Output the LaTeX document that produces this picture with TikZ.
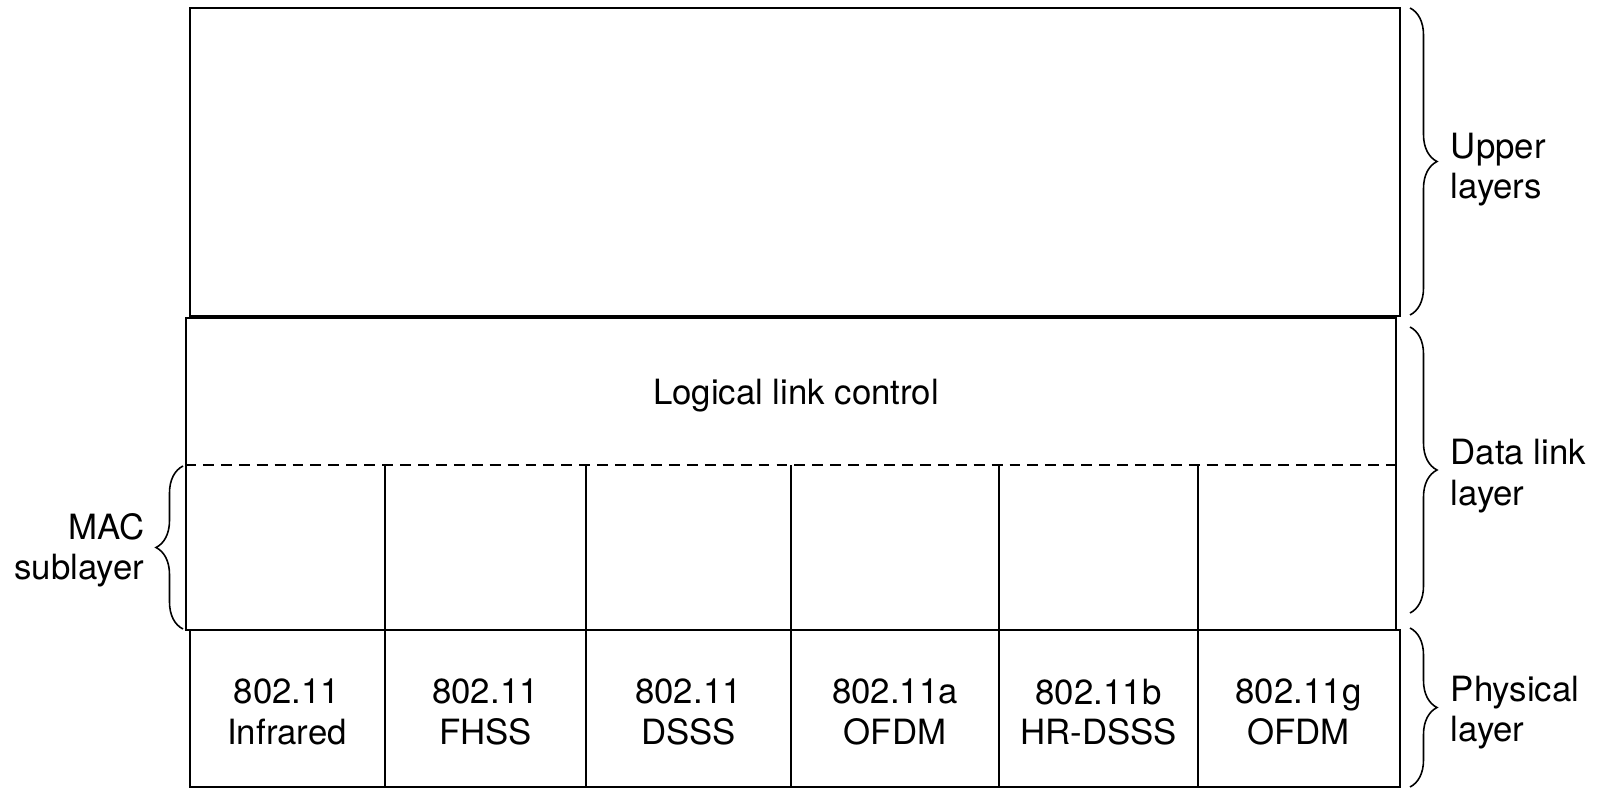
\documentclass[tikz,border=0pt]{standalone}
\usepackage{fontspec}
\setmainfont{TeX Gyre Heros}
\usetikzlibrary{positioning,decorations.pathreplacing}

\begin{document}
\begin{tikzpicture}[font=\fontsize{19.8}{23}\selectfont,
  layer/.style={draw, line width=1.2pt, inner sep=0pt, minimum width=24.2cm, anchor=north west},
  cellline/.style={line width=0.9pt},
  celltext/.style={align=center},
  lbrace/.style={decorate, decoration={brace, amplitude=0.54cm}, line width=0.9pt},
  bracelbl/.style={midway, inner sep=0pt}]
\useasboundingbox (0,0) rectangle (32.12,-15.76);
\node[layer, minimum height=6.16cm] (upper) at (3.78,-0.14) {};
\node[layer, minimum height=6.24cm] (dll) at (3.70,-6.34) {};
\node[layer, minimum height=3.14cm] (phy) at (3.78,-12.58) {};
\node (llc) at (15.92,-7.92) {Logical link control};
\coordinate (macl) at (3.70,-9.3);
\coordinate (macr) at (27.90,-9.3);
\draw[line width=0.9pt, dash pattern=on 6.2pt off 4pt] (macl) -- (macr);
\foreach \x in {7.70,11.72,15.82,19.98,23.96}
  \draw[cellline] (\x,-9.3) -- (\x,-15.72);
\foreach \x/\txt [count=\i] in {5.74/{802.11\\Infrared}, 9.71/{802.11\\FHSS},
    13.77/{802.11\\DSSS}, 17.90/{802.11a\\OFDM}, 21.97/{802.11b\\HR-DSSS},
    25.97/{802.11g\\OFDM}}
  \node[celltext] (phy\i) at (\x,-14.24) {\txt};
% braces
\draw[lbrace] (28.2,-0.16) -- (28.2,-6.30)
  node[bracelbl, anchor=west, xshift=0.8cm, yshift=-0.16cm, align=left] (upperlbl) {Upper\\layers};
\draw[lbrace] (28.2,-6.54) -- (28.2,-12.26)
  node[bracelbl, anchor=west, xshift=0.8cm, yshift=-0.12cm, align=left] (dlllbl) {Data link\\layer};
\draw[lbrace] (28.2,-12.56) -- (28.2,-15.74)
  node[bracelbl, anchor=west, xshift=0.8cm, yshift=-0.1cm, align=left] (phylbl) {Physical\\layer};
\draw[lbrace] (3.66,-12.58) -- (3.66,-9.32)
  node[bracelbl, anchor=east, xshift=-0.76cm, yshift=-0.06cm, align=right] (maclbl) {MAC\\sublayer};
\end{tikzpicture}
\end{document}
